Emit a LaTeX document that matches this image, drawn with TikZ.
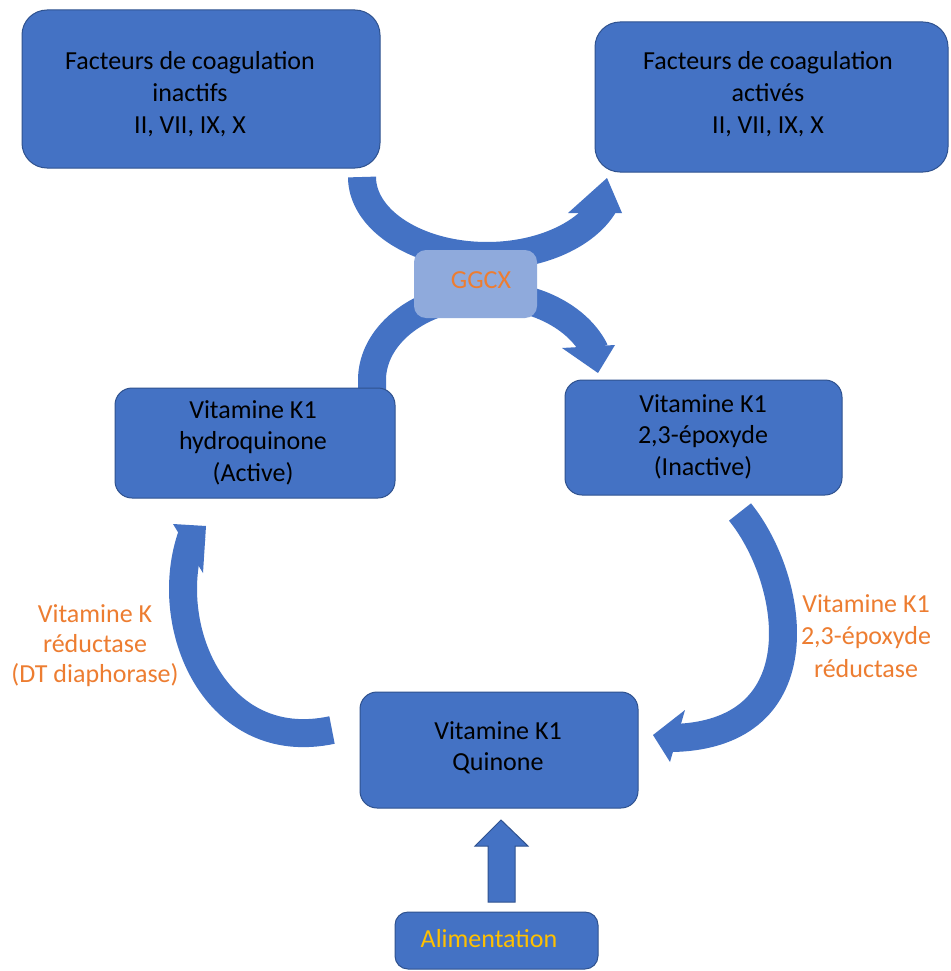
\documentclass[tikz,border=0pt]{standalone}
\usepackage{fontspec}
\setmainfont{Carlito}
\definecolor{boxblue}{HTML}{4472C4}
\definecolor{boxedge}{HTML}{2F528F}
\definecolor{lightblue}{HTML}{8FAADC}
\definecolor{orangetxt}{HTML}{ED7D31}
\definecolor{goldtxt}{HTML}{FFC000}
\tikzset{
  box/.style={draw=boxedge, line width=1pt, fill=boxblue, inner sep=0pt},
  txt/.style={font=\fontsize{26}{31.5}\selectfont, align=center, inner sep=0pt, anchor=base},
  band/.style={draw=boxblue, line width=28pt},
  headfill/.style={fill=boxblue},
}
\begin{document}
\begin{tikzpicture}[x=1pt,y=-1pt]
\clip (0,0) rectangle (950,971);
\fill[white] (0,0) rectangle (950,971);
% curved bands
\coordinate (a1s) at (362,177);
\draw[band] plot[domain=180:20, samples=80, variable=\t] ({487+125*cos(\t)},{177+79*sin(\t)});
\fill[headfill] (568,213) -- (607,178) -- (622,213) -- cycle;
\draw[band] (372,392) -- plot[domain=180:340, samples=80, variable=\t] ({487+115*cos(\t)},{380+85*sin(\t)});
\fill[headfill] (562,348) -- (598,373) -- (615,345) -- cycle;
\coordinate (a3s) at (740,512);
\coordinate (a3e) at (672,738);
\draw[band] (a3s) .. controls (795,580) and (820,735) .. (a3e);
\fill[headfill] (685,710) -- (653,735) -- (670,762) -- cycle;
\coordinate (a4s) at (332,730);
\coordinate (a4e) at (192,535);
\draw[band] (a4s) .. controls (215,755) and (160,625) .. (a4e);
\fill[headfill] (173,524) -- (206,526) -- (203,573) -- cycle;
% up arrow
\draw[fill=boxblue, draw=boxedge, line width=1pt] (488,902) -- (488,846) -- (475,846) -- (501,820) -- (528,846) -- (515,846) -- (515,902) -- cycle;
% boxes
\node[box, rounded corners=25pt, minimum width=358pt, minimum height=158pt] (tl) at (201,89) {};
\node[box, rounded corners=25pt, minimum width=353pt, minimum height=150pt] (tr) at (771.5,97) {};
\node[fill=lightblue, rounded corners=12pt, minimum width=123pt, minimum height=68pt, inner sep=0pt] (gg) at (475.5,284) {};
\node[box, rounded corners=17pt, minimum width=280pt, minimum height=110pt] (hy) at (255,443) {};
\node[box, rounded corners=17pt, minimum width=277pt, minimum height=115pt] (ep) at (703.5,437.5) {};
\node[box, rounded corners=17pt, minimum width=278pt, minimum height=116pt] (qu) at (499,750) {};
\node[box, rounded corners=13pt, minimum width=203pt, minimum height=57pt] (al) at (496.5,940.5) {};
% texts (anchor base = last line baseline)
\node[txt] (ttl) at (190,133) {Facteurs de coagulation\\inactifs\\II, VII, IX, X};
\node[txt] (ttr) at (768,133) {Facteurs de coagulation\\activés\\II, VII, IX, X};
\node[txt, text=orangetxt] (tgg) at (481,288) {GGCX};
\node[txt] (thy) at (253,481) {Vitamine K1\\hydroquinone\\(Active)};
\node[txt] (tep) at (703,475) {Vitamine K1\\2,3-époxyde\\(Inactive)};
\node[txt] (tqu) at (498,770.5) {Vitamine K1\\Quinone};
\node[txt, text=goldtxt] (tal) at (489,947) {Alimentation};
\node[txt, text=orangetxt, font=\fontsize{26}{30}\selectfont] (lk) at (95,682) {Vitamine K\\réductase\\(DT diaphorase)};
\node[txt, text=orangetxt, font=\fontsize{26}{32.5}\selectfont] (rk) at (866,677) {Vitamine K1\\2,3-époxyde\\réductase};
\end{tikzpicture}
\end{document}
